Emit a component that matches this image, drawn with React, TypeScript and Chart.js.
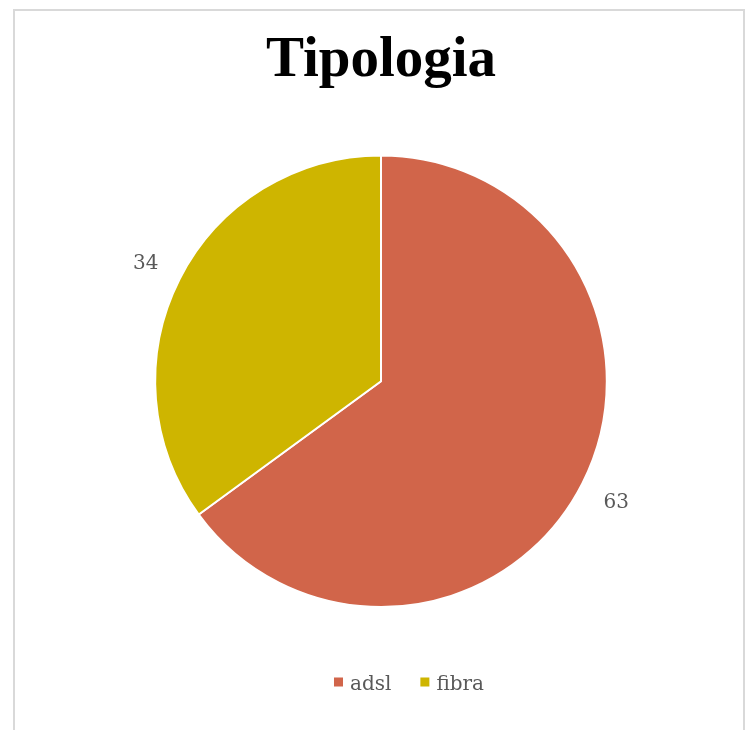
import React, { useEffect, useRef } from "react";
import { Chart, registerables } from "chart.js";

Chart.register(...registerables);

const titleText = "Tipologia";
const categories = ["adsl", "fibra"];
const values = [63, 34];
const sliceColors = ["#D1654A", "#CEB500"];

const FONT = "'DejaVu Serif', 'Liberation Serif', serif";
const TITLE_FONT = "'Liberation Serif', 'Times New Roman', serif";

const outsideLabels = {
  id: "outsideLabels",
  afterDatasetsDraw(chart: any) {
    const ctx = chart.ctx;
    const meta = chart.getDatasetMeta(0);
    const ds = chart.data.datasets[0];
    ctx.save();
    ctx.font = `20px ${FONT}`;
    ctx.fillStyle = "#595959";
    ctx.textAlign = "center";
    ctx.textBaseline = "middle";
    meta.data.forEach((arc: any, i: number) => {
      const p = arc.getProps(["x", "y", "startAngle", "endAngle", "outerRadius"], true);
      const mid = (p.startAngle + p.endAngle) / 2;
      const r = p.outerRadius + 38;
      ctx.fillText(String(ds.data[i]), p.x + Math.cos(mid) * r, p.y + Math.sin(mid) * r + 2);
    });
    ctx.restore();
  },
};

const customLegend = {
  id: "customLegend",
  afterDraw(chart: any, _args: any, opts: any) {
    const ctx = chart.ctx;
    const labels: string[] = chart.data.labels;
    const colors: string[] = chart.data.datasets[0].backgroundColor;
    ctx.save();
    ctx.font = `20px ${FONT}`;
    ctx.textBaseline = "alphabetic";
    const box = 9;
    const gap = 7;
    const itemGap = 29;
    const widths = labels.map((l) => box + gap + ctx.measureText(l).width);
    const total = widths.reduce((a, b) => a + b, 0) + itemGap * (labels.length - 1);
    let x = opts.cx - total / 2;
    labels.forEach((l, i) => {
      ctx.fillStyle = colors[i];
      ctx.fillRect(x, opts.boxCy - box / 2, box, box);
      ctx.fillStyle = "#595959";
      ctx.textAlign = "left";
      ctx.fillText(l, x + box + gap, opts.baseline);
      x += widths[i] + itemGap;
    });
    ctx.restore();
  },
};

export default function App() {
  const ref = useRef<HTMLCanvasElement>(null);
  useEffect(() => {
    if (!ref.current) return;
    const chart = new Chart(ref.current, {
      type: "pie",
      data: {
        labels: categories,
        datasets: [
          {
            data: values,
            backgroundColor: sliceColors,
            borderColor: "#ffffff",
            borderWidth: 2,
          },
        ],
      },
      options: {
        responsive: false,
        animation: false,
        layout: { padding: { left: 154, right: 141, top: 0, bottom: 122 } },
        plugins: {
          legend: { display: false },
          tooltip: { enabled: false },
          title: {
            display: true,
            text: titleText,
            color: "#000000",
            font: { family: TITLE_FONT, size: 57, weight: "bold" },
            padding: { top: 27, bottom: 59 },
          },
          customLegend: { cx: 409, boxCy: 682, baseline: 690 },
        } as any,
      },
      plugins: [outsideLabels, customLegend],
    });
    return () => chart.destroy();
  }, []);
  return (
    <div style={{ position: "fixed", left: 0, top: 0, width: 749, height: 730, background: "#fff", overflow: "hidden" }}>
      <div
        style={{
          position: "absolute",
          left: 13,
          top: 9,
          width: 732,
          height: 760,
          border: "2px solid #d9d9d9",
          boxSizing: "border-box",
        }}
      />
      <canvas ref={ref} width={749} height={730} style={{ position: "absolute", left: 0, top: 0 }} />
    </div>
  );
}
